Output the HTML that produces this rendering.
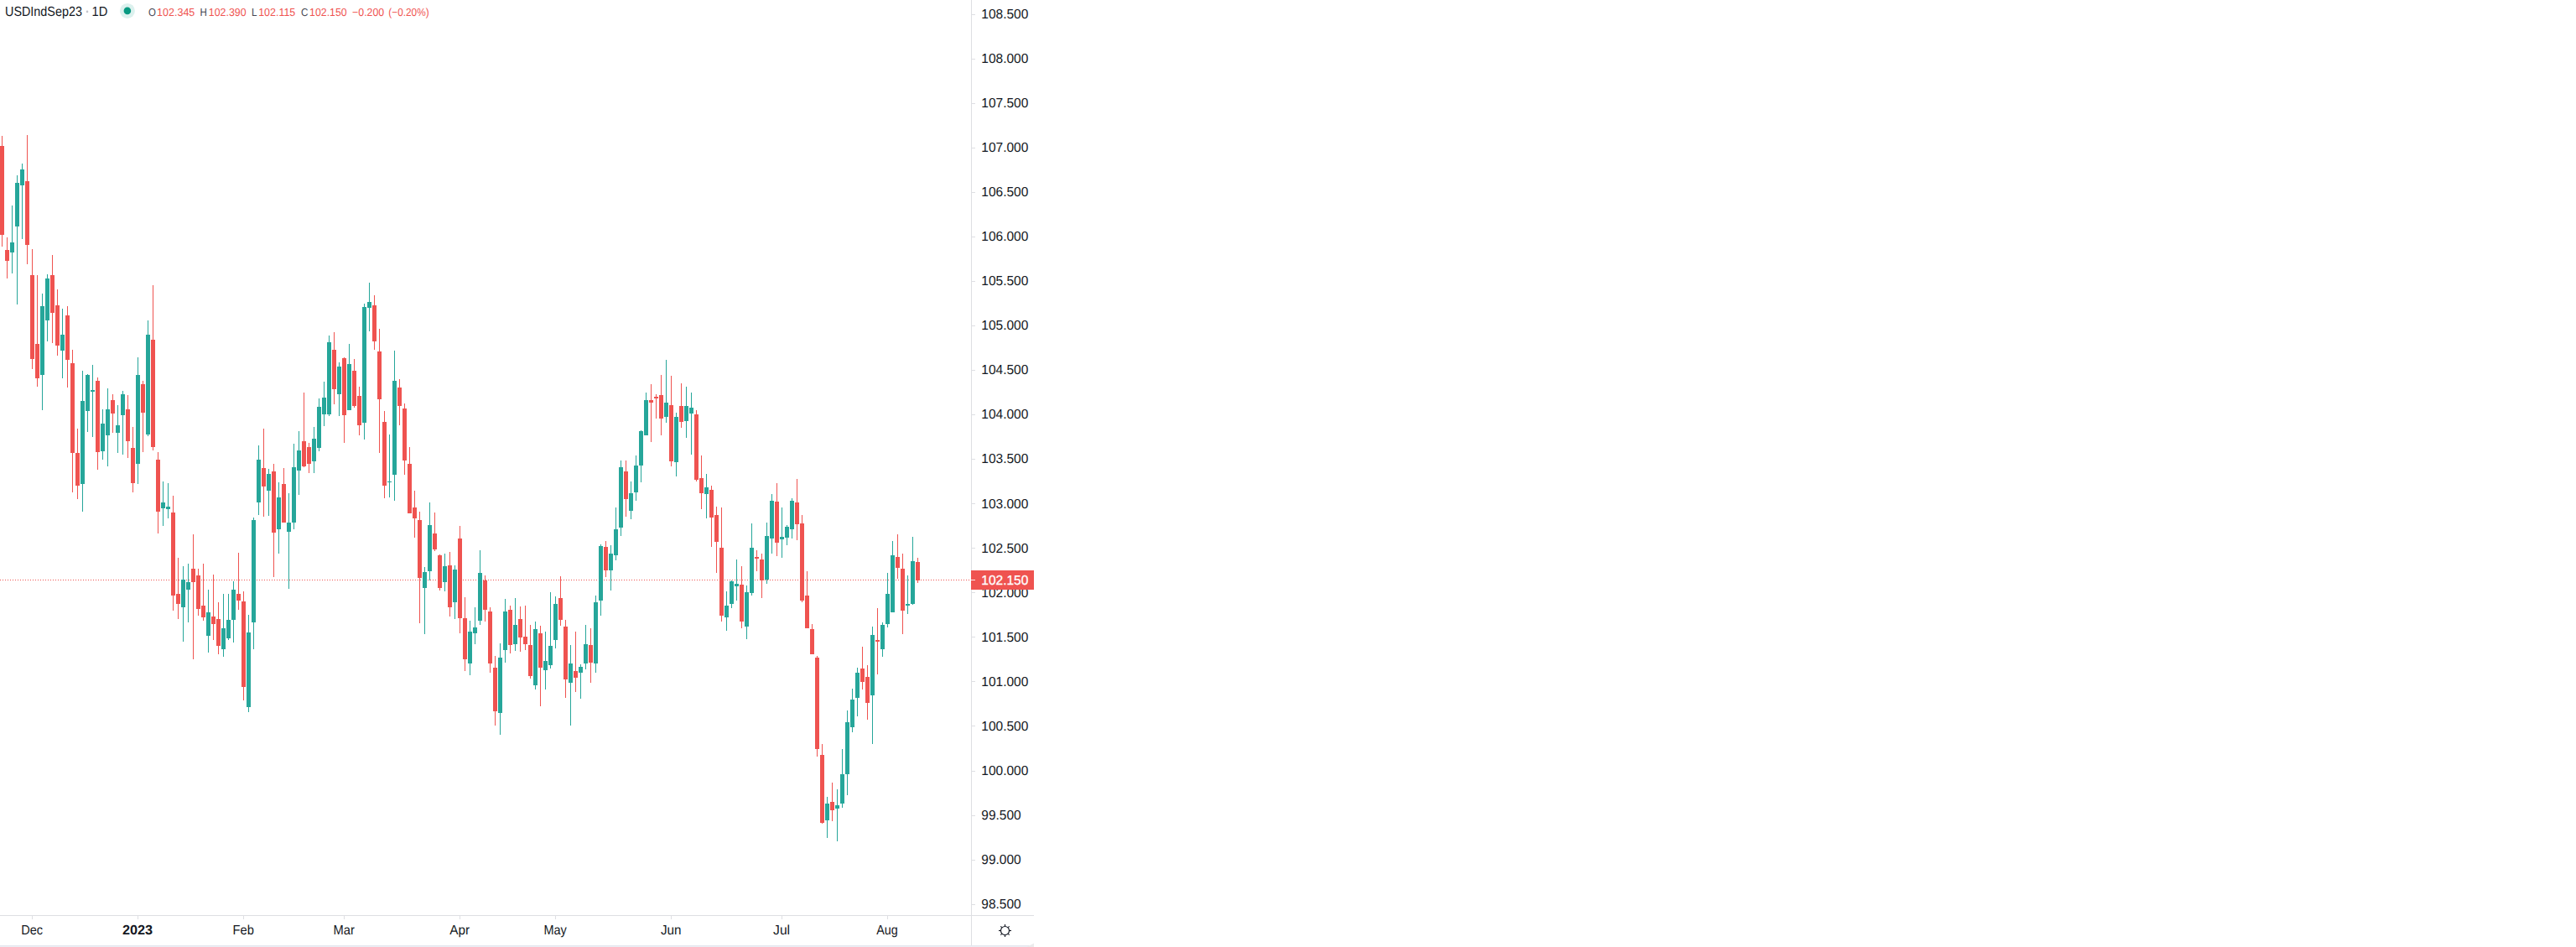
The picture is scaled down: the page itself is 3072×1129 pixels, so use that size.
<!DOCTYPE html>
<html lang="en"><head><meta charset="utf-8"><title>USDIndSep23 1D</title>
<style>
html,body{margin:0;padding:0;background:#fff;}
body{width:3072px;height:1129px;overflow:hidden;}
svg{display:block;}
text{font-family:"Liberation Sans", sans-serif;text-rendering:geometricPrecision;}
.g{fill:#26a69a}.r{fill:#ef5350}
.v{font-size:13px;fill:#ef5350}
.l{font-size:13px;fill:#434651}
</style></head><body>
<svg width="3072" height="1129" viewBox="0 0 3072 1129">
<rect width="3072" height="1129" fill="#fff"/>
<g shape-rendering="crispEdges">
<line x1="0" y1="691.5" x2="1158" y2="691.5" stroke="#ef5350" stroke-width="1" stroke-dasharray="1 2"/>
<rect class="r" x="2" y="162" width="1" height="132"/>
<rect class="r" x="0" y="174" width="5" height="106"/>
<rect class="r" x="8" y="283" width="1" height="49"/>
<rect class="r" x="6" y="298" width="5" height="13"/>
<rect class="g" x="14" y="245" width="1" height="81"/>
<rect class="g" x="12" y="289" width="5" height="12"/>
<rect class="g" x="20" y="209" width="1" height="154"/>
<rect class="g" x="18" y="218" width="5" height="52"/>
<rect class="g" x="26" y="195" width="1" height="90"/>
<rect class="g" x="24" y="202" width="5" height="19"/>
<rect class="r" x="32" y="161" width="1" height="154"/>
<rect class="r" x="30" y="216" width="5" height="76"/>
<rect class="r" x="38" y="297" width="1" height="143"/>
<rect class="r" x="36" y="328" width="5" height="100"/>
<rect class="r" x="44" y="328" width="1" height="133"/>
<rect class="r" x="42" y="410" width="5" height="41"/>
<rect class="g" x="50" y="350" width="1" height="139"/>
<rect class="g" x="48" y="365" width="5" height="82"/>
<rect class="g" x="56" y="327" width="1" height="80"/>
<rect class="g" x="54" y="332" width="5" height="50"/>
<rect class="r" x="62" y="304" width="1" height="105"/>
<rect class="r" x="60" y="328" width="5" height="45"/>
<rect class="r" x="68" y="345" width="1" height="79"/>
<rect class="r" x="66" y="364" width="5" height="48"/>
<rect class="g" x="74" y="368" width="1" height="83"/>
<rect class="g" x="72" y="399" width="5" height="19"/>
<rect class="r" x="80" y="365" width="1" height="97"/>
<rect class="r" x="78" y="376" width="5" height="53"/>
<rect class="r" x="86" y="417" width="1" height="170"/>
<rect class="r" x="84" y="433" width="5" height="107"/>
<rect class="r" x="92" y="511" width="1" height="84"/>
<rect class="r" x="90" y="540" width="5" height="39"/>
<rect class="g" x="98" y="442" width="1" height="168"/>
<rect class="g" x="96" y="478" width="5" height="99"/>
<rect class="g" x="104" y="446" width="1" height="69"/>
<rect class="g" x="102" y="447" width="5" height="43"/>
<rect class="g" x="110" y="435" width="1" height="86"/>
<rect class="g" x="108" y="465" width="5" height="2"/>
<rect class="r" x="116" y="450" width="1" height="110"/>
<rect class="r" x="114" y="454" width="5" height="85"/>
<rect class="g" x="122" y="488" width="1" height="60"/>
<rect class="g" x="120" y="505" width="5" height="33"/>
<rect class="g" x="128" y="463" width="1" height="93"/>
<rect class="g" x="126" y="488" width="5" height="31"/>
<rect class="r" x="134" y="470" width="1" height="46"/>
<rect class="r" x="132" y="477" width="5" height="16"/>
<rect class="g" x="140" y="483" width="1" height="57"/>
<rect class="g" x="138" y="507" width="5" height="9"/>
<rect class="g" x="146" y="466" width="1" height="76"/>
<rect class="g" x="144" y="470" width="5" height="25"/>
<rect class="r" x="152" y="471" width="1" height="75"/>
<rect class="r" x="150" y="488" width="5" height="38"/>
<rect class="r" x="158" y="509" width="1" height="78"/>
<rect class="r" x="156" y="534" width="5" height="42"/>
<rect class="g" x="164" y="426" width="1" height="151"/>
<rect class="g" x="162" y="447" width="5" height="106"/>
<rect class="r" x="170" y="454" width="1" height="85"/>
<rect class="r" x="168" y="458" width="5" height="34"/>
<rect class="g" x="176" y="382" width="1" height="138"/>
<rect class="g" x="174" y="399" width="5" height="119"/>
<rect class="r" x="182" y="340" width="1" height="197"/>
<rect class="r" x="180" y="405" width="5" height="128"/>
<rect class="r" x="188" y="539" width="1" height="97"/>
<rect class="r" x="186" y="548" width="5" height="62"/>
<rect class="g" x="194" y="574" width="1" height="53"/>
<rect class="g" x="192" y="599" width="5" height="7"/>
<rect class="g" x="200" y="576" width="1" height="42"/>
<rect class="g" x="198" y="604" width="5" height="3"/>
<rect class="r" x="206" y="591" width="1" height="137"/>
<rect class="r" x="204" y="611" width="5" height="99"/>
<rect class="r" x="212" y="665" width="1" height="73"/>
<rect class="r" x="210" y="708" width="5" height="12"/>
<rect class="g" x="218" y="675" width="1" height="90"/>
<rect class="g" x="216" y="691" width="5" height="33"/>
<rect class="g" x="224" y="672" width="1" height="70"/>
<rect class="g" x="222" y="694" width="5" height="9"/>
<rect class="r" x="230" y="637" width="1" height="149"/>
<rect class="r" x="228" y="678" width="5" height="16"/>
<rect class="r" x="236" y="678" width="1" height="56"/>
<rect class="r" x="234" y="686" width="5" height="40"/>
<rect class="r" x="242" y="672" width="1" height="68"/>
<rect class="r" x="240" y="722" width="5" height="14"/>
<rect class="g" x="248" y="703" width="1" height="75"/>
<rect class="g" x="246" y="730" width="5" height="28"/>
<rect class="r" x="254" y="685" width="1" height="78"/>
<rect class="r" x="252" y="735" width="5" height="9"/>
<rect class="r" x="260" y="718" width="1" height="62"/>
<rect class="r" x="258" y="738" width="5" height="32"/>
<rect class="g" x="266" y="708" width="1" height="75"/>
<rect class="g" x="264" y="749" width="5" height="25"/>
<rect class="g" x="272" y="708" width="1" height="55"/>
<rect class="g" x="270" y="739" width="5" height="22"/>
<rect class="g" x="278" y="693" width="1" height="73"/>
<rect class="g" x="276" y="703" width="5" height="36"/>
<rect class="r" x="284" y="659" width="1" height="68"/>
<rect class="r" x="282" y="708" width="5" height="8"/>
<rect class="r" x="290" y="705" width="1" height="130"/>
<rect class="r" x="288" y="717" width="5" height="102"/>
<rect class="g" x="296" y="733" width="1" height="116"/>
<rect class="g" x="294" y="754" width="5" height="89"/>
<rect class="g" x="302" y="617" width="1" height="157"/>
<rect class="g" x="300" y="620" width="5" height="122"/>
<rect class="g" x="308" y="531" width="1" height="83"/>
<rect class="g" x="306" y="548" width="5" height="51"/>
<rect class="r" x="314" y="511" width="1" height="105"/>
<rect class="r" x="312" y="558" width="5" height="22"/>
<rect class="g" x="320" y="559" width="1" height="56"/>
<rect class="g" x="318" y="565" width="5" height="20"/>
<rect class="r" x="326" y="553" width="1" height="135"/>
<rect class="r" x="324" y="562" width="5" height="73"/>
<rect class="g" x="332" y="575" width="1" height="85"/>
<rect class="g" x="330" y="593" width="5" height="38"/>
<rect class="r" x="338" y="558" width="1" height="65"/>
<rect class="r" x="336" y="577" width="5" height="46"/>
<rect class="g" x="344" y="588" width="1" height="114"/>
<rect class="g" x="342" y="623" width="5" height="11"/>
<rect class="g" x="350" y="529" width="1" height="102"/>
<rect class="g" x="348" y="557" width="5" height="66"/>
<rect class="g" x="356" y="514" width="1" height="76"/>
<rect class="g" x="354" y="537" width="5" height="24"/>
<rect class="r" x="362" y="468" width="1" height="89"/>
<rect class="r" x="360" y="526" width="5" height="30"/>
<rect class="r" x="368" y="528" width="1" height="36"/>
<rect class="r" x="366" y="533" width="5" height="20"/>
<rect class="g" x="374" y="509" width="1" height="55"/>
<rect class="g" x="372" y="523" width="5" height="27"/>
<rect class="g" x="380" y="475" width="1" height="63"/>
<rect class="g" x="378" y="485" width="5" height="49"/>
<rect class="g" x="386" y="455" width="1" height="53"/>
<rect class="g" x="384" y="474" width="5" height="20"/>
<rect class="g" x="392" y="400" width="1" height="96"/>
<rect class="g" x="390" y="408" width="5" height="86"/>
<rect class="r" x="398" y="396" width="1" height="86"/>
<rect class="r" x="396" y="417" width="5" height="47"/>
<rect class="g" x="404" y="432" width="1" height="64"/>
<rect class="g" x="402" y="437" width="5" height="33"/>
<rect class="r" x="410" y="426" width="1" height="102"/>
<rect class="r" x="408" y="427" width="5" height="68"/>
<rect class="g" x="416" y="410" width="1" height="79"/>
<rect class="g" x="414" y="434" width="5" height="55"/>
<rect class="r" x="422" y="428" width="1" height="58"/>
<rect class="r" x="420" y="442" width="5" height="42"/>
<rect class="r" x="428" y="461" width="1" height="58"/>
<rect class="r" x="426" y="472" width="5" height="35"/>
<rect class="g" x="434" y="362" width="1" height="162"/>
<rect class="g" x="432" y="366" width="5" height="138"/>
<rect class="g" x="440" y="337" width="1" height="58"/>
<rect class="g" x="438" y="360" width="5" height="7"/>
<rect class="r" x="446" y="352" width="1" height="65"/>
<rect class="r" x="444" y="364" width="5" height="43"/>
<rect class="r" x="452" y="392" width="1" height="148"/>
<rect class="r" x="450" y="419" width="5" height="57"/>
<rect class="r" x="458" y="490" width="1" height="104"/>
<rect class="r" x="456" y="503" width="5" height="76"/>
<rect class="g" x="464" y="518" width="1" height="75"/>
<rect class="g" x="462" y="574" width="5" height="1"/>
<rect class="g" x="470" y="418" width="1" height="179"/>
<rect class="g" x="468" y="454" width="5" height="112"/>
<rect class="r" x="476" y="452" width="1" height="55"/>
<rect class="r" x="474" y="462" width="5" height="22"/>
<rect class="r" x="482" y="481" width="1" height="85"/>
<rect class="r" x="480" y="487" width="5" height="62"/>
<rect class="r" x="488" y="533" width="1" height="79"/>
<rect class="r" x="486" y="553" width="5" height="59"/>
<rect class="r" x="494" y="585" width="1" height="56"/>
<rect class="r" x="492" y="605" width="5" height="13"/>
<rect class="r" x="500" y="610" width="1" height="133"/>
<rect class="r" x="498" y="620" width="5" height="69"/>
<rect class="g" x="506" y="676" width="1" height="80"/>
<rect class="g" x="504" y="682" width="5" height="19"/>
<rect class="g" x="512" y="599" width="1" height="93"/>
<rect class="g" x="510" y="626" width="5" height="55"/>
<rect class="r" x="518" y="611" width="1" height="46"/>
<rect class="r" x="516" y="636" width="5" height="19"/>
<rect class="r" x="524" y="661" width="1" height="43"/>
<rect class="r" x="522" y="662" width="5" height="39"/>
<rect class="g" x="530" y="660" width="1" height="45"/>
<rect class="g" x="528" y="675" width="5" height="19"/>
<rect class="r" x="536" y="658" width="1" height="77"/>
<rect class="r" x="534" y="674" width="5" height="50"/>
<rect class="g" x="542" y="674" width="1" height="64"/>
<rect class="g" x="540" y="679" width="5" height="39"/>
<rect class="r" x="548" y="627" width="1" height="128"/>
<rect class="r" x="546" y="642" width="5" height="95"/>
<rect class="r" x="554" y="712" width="1" height="88"/>
<rect class="r" x="552" y="737" width="5" height="49"/>
<rect class="g" x="560" y="740" width="1" height="65"/>
<rect class="g" x="558" y="753" width="5" height="38"/>
<rect class="g" x="566" y="724" width="1" height="44"/>
<rect class="g" x="564" y="748" width="5" height="7"/>
<rect class="g" x="572" y="656" width="1" height="89"/>
<rect class="g" x="570" y="683" width="5" height="57"/>
<rect class="r" x="578" y="686" width="1" height="55"/>
<rect class="r" x="576" y="692" width="5" height="35"/>
<rect class="r" x="584" y="724" width="1" height="78"/>
<rect class="r" x="582" y="729" width="5" height="62"/>
<rect class="r" x="590" y="782" width="1" height="83"/>
<rect class="r" x="588" y="796" width="5" height="52"/>
<rect class="g" x="596" y="767" width="1" height="109"/>
<rect class="g" x="594" y="784" width="5" height="66"/>
<rect class="g" x="602" y="714" width="1" height="76"/>
<rect class="g" x="600" y="729" width="5" height="46"/>
<rect class="r" x="608" y="722" width="1" height="57"/>
<rect class="r" x="606" y="727" width="5" height="42"/>
<rect class="g" x="614" y="713" width="1" height="63"/>
<rect class="g" x="612" y="745" width="5" height="23"/>
<rect class="r" x="620" y="723" width="1" height="54"/>
<rect class="r" x="618" y="738" width="5" height="22"/>
<rect class="r" x="626" y="722" width="1" height="53"/>
<rect class="r" x="624" y="759" width="5" height="9"/>
<rect class="r" x="632" y="745" width="1" height="64"/>
<rect class="r" x="630" y="769" width="5" height="37"/>
<rect class="g" x="638" y="741" width="1" height="81"/>
<rect class="g" x="636" y="750" width="5" height="67"/>
<rect class="r" x="644" y="746" width="1" height="96"/>
<rect class="r" x="642" y="755" width="5" height="41"/>
<rect class="g" x="650" y="753" width="1" height="69"/>
<rect class="g" x="648" y="788" width="5" height="11"/>
<rect class="g" x="656" y="706" width="1" height="91"/>
<rect class="g" x="654" y="770" width="5" height="23"/>
<rect class="g" x="662" y="711" width="1" height="62"/>
<rect class="g" x="660" y="720" width="5" height="43"/>
<rect class="r" x="668" y="687" width="1" height="59"/>
<rect class="r" x="666" y="713" width="5" height="26"/>
<rect class="r" x="674" y="739" width="1" height="93"/>
<rect class="r" x="672" y="747" width="5" height="63"/>
<rect class="g" x="680" y="769" width="1" height="96"/>
<rect class="g" x="678" y="791" width="5" height="23"/>
<rect class="r" x="686" y="753" width="1" height="72"/>
<rect class="r" x="684" y="800" width="5" height="8"/>
<rect class="g" x="692" y="792" width="1" height="41"/>
<rect class="g" x="690" y="795" width="5" height="7"/>
<rect class="g" x="698" y="745" width="1" height="53"/>
<rect class="g" x="696" y="768" width="5" height="23"/>
<rect class="r" x="704" y="749" width="1" height="65"/>
<rect class="r" x="702" y="769" width="5" height="21"/>
<rect class="g" x="710" y="710" width="1" height="92"/>
<rect class="g" x="708" y="718" width="5" height="73"/>
<rect class="g" x="716" y="649" width="1" height="85"/>
<rect class="g" x="714" y="651" width="5" height="65"/>
<rect class="r" x="722" y="645" width="1" height="43"/>
<rect class="r" x="720" y="652" width="5" height="28"/>
<rect class="g" x="728" y="650" width="1" height="54"/>
<rect class="g" x="726" y="660" width="5" height="20"/>
<rect class="g" x="734" y="605" width="1" height="63"/>
<rect class="g" x="732" y="631" width="5" height="31"/>
<rect class="g" x="740" y="549" width="1" height="90"/>
<rect class="g" x="738" y="557" width="5" height="72"/>
<rect class="r" x="746" y="549" width="1" height="67"/>
<rect class="r" x="744" y="562" width="5" height="33"/>
<rect class="g" x="752" y="574" width="1" height="45"/>
<rect class="g" x="750" y="588" width="5" height="21"/>
<rect class="g" x="758" y="543" width="1" height="54"/>
<rect class="g" x="756" y="555" width="5" height="32"/>
<rect class="g" x="764" y="513" width="1" height="62"/>
<rect class="g" x="762" y="514" width="5" height="41"/>
<rect class="g" x="770" y="468" width="1" height="51"/>
<rect class="g" x="768" y="477" width="5" height="42"/>
<rect class="r" x="776" y="458" width="1" height="69"/>
<rect class="r" x="774" y="477" width="5" height="3"/>
<rect class="r" x="782" y="470" width="1" height="29"/>
<rect class="r" x="780" y="473" width="5" height="2"/>
<rect class="r" x="788" y="447" width="1" height="72"/>
<rect class="r" x="786" y="471" width="5" height="28"/>
<rect class="g" x="794" y="429" width="1" height="75"/>
<rect class="g" x="792" y="480" width="5" height="17"/>
<rect class="r" x="800" y="448" width="1" height="108"/>
<rect class="r" x="798" y="483" width="5" height="67"/>
<rect class="g" x="806" y="492" width="1" height="76"/>
<rect class="g" x="804" y="497" width="5" height="54"/>
<rect class="r" x="812" y="457" width="1" height="53"/>
<rect class="r" x="810" y="484" width="5" height="19"/>
<rect class="g" x="818" y="461" width="1" height="61"/>
<rect class="g" x="816" y="484" width="5" height="18"/>
<rect class="g" x="824" y="468" width="1" height="74"/>
<rect class="g" x="822" y="486" width="5" height="7"/>
<rect class="r" x="830" y="489" width="1" height="85"/>
<rect class="r" x="828" y="494" width="5" height="78"/>
<rect class="r" x="836" y="543" width="1" height="64"/>
<rect class="r" x="834" y="570" width="5" height="18"/>
<rect class="g" x="842" y="565" width="1" height="53"/>
<rect class="g" x="840" y="581" width="5" height="8"/>
<rect class="r" x="848" y="579" width="1" height="73"/>
<rect class="r" x="846" y="584" width="5" height="33"/>
<rect class="r" x="854" y="604" width="1" height="79"/>
<rect class="r" x="852" y="614" width="5" height="32"/>
<rect class="r" x="860" y="605" width="1" height="136"/>
<rect class="r" x="858" y="653" width="5" height="81"/>
<rect class="g" x="866" y="705" width="1" height="47"/>
<rect class="g" x="864" y="722" width="5" height="14"/>
<rect class="g" x="872" y="692" width="1" height="33"/>
<rect class="g" x="870" y="693" width="5" height="27"/>
<rect class="g" x="878" y="667" width="1" height="49"/>
<rect class="g" x="876" y="696" width="5" height="3"/>
<rect class="r" x="884" y="675" width="1" height="74"/>
<rect class="r" x="882" y="697" width="5" height="44"/>
<rect class="g" x="890" y="698" width="1" height="64"/>
<rect class="g" x="888" y="706" width="5" height="41"/>
<rect class="g" x="896" y="624" width="1" height="86"/>
<rect class="g" x="894" y="653" width="5" height="54"/>
<rect class="r" x="902" y="656" width="1" height="25"/>
<rect class="r" x="900" y="664" width="5" height="2"/>
<rect class="r" x="908" y="660" width="1" height="53"/>
<rect class="r" x="906" y="667" width="5" height="25"/>
<rect class="g" x="914" y="623" width="1" height="73"/>
<rect class="g" x="912" y="639" width="5" height="52"/>
<rect class="g" x="920" y="589" width="1" height="71"/>
<rect class="g" x="918" y="597" width="5" height="45"/>
<rect class="r" x="926" y="576" width="1" height="87"/>
<rect class="r" x="924" y="598" width="5" height="49"/>
<rect class="g" x="932" y="605" width="1" height="60"/>
<rect class="g" x="930" y="640" width="5" height="3"/>
<rect class="g" x="938" y="626" width="1" height="24"/>
<rect class="g" x="936" y="628" width="5" height="13"/>
<rect class="g" x="944" y="594" width="1" height="48"/>
<rect class="g" x="942" y="597" width="5" height="34"/>
<rect class="r" x="950" y="571" width="1" height="73"/>
<rect class="r" x="948" y="599" width="5" height="26"/>
<rect class="r" x="956" y="614" width="1" height="104"/>
<rect class="r" x="954" y="624" width="5" height="92"/>
<rect class="r" x="962" y="681" width="1" height="68"/>
<rect class="r" x="960" y="710" width="5" height="39"/>
<rect class="r" x="968" y="744" width="1" height="36"/>
<rect class="r" x="966" y="750" width="5" height="30"/>
<rect class="r" x="974" y="782" width="1" height="120"/>
<rect class="r" x="972" y="784" width="5" height="109"/>
<rect class="r" x="980" y="887" width="1" height="95"/>
<rect class="r" x="978" y="900" width="5" height="81"/>
<rect class="g" x="986" y="950" width="1" height="49"/>
<rect class="g" x="984" y="958" width="5" height="20"/>
<rect class="r" x="992" y="933" width="1" height="46"/>
<rect class="r" x="990" y="956" width="5" height="10"/>
<rect class="g" x="998" y="941" width="1" height="62"/>
<rect class="g" x="996" y="960" width="5" height="4"/>
<rect class="g" x="1004" y="893" width="1" height="70"/>
<rect class="g" x="1002" y="923" width="5" height="35"/>
<rect class="g" x="1010" y="847" width="1" height="101"/>
<rect class="g" x="1008" y="861" width="5" height="62"/>
<rect class="g" x="1016" y="821" width="1" height="52"/>
<rect class="g" x="1014" y="834" width="5" height="33"/>
<rect class="g" x="1022" y="796" width="1" height="58"/>
<rect class="g" x="1020" y="802" width="5" height="30"/>
<rect class="r" x="1028" y="771" width="1" height="51"/>
<rect class="r" x="1026" y="797" width="5" height="16"/>
<rect class="r" x="1034" y="793" width="1" height="65"/>
<rect class="r" x="1032" y="807" width="5" height="31"/>
<rect class="g" x="1040" y="747" width="1" height="140"/>
<rect class="g" x="1038" y="757" width="5" height="72"/>
<rect class="r" x="1046" y="725" width="1" height="79"/>
<rect class="r" x="1044" y="763" width="5" height="2"/>
<rect class="g" x="1052" y="742" width="1" height="41"/>
<rect class="g" x="1050" y="745" width="5" height="29"/>
<rect class="g" x="1058" y="683" width="1" height="65"/>
<rect class="g" x="1056" y="708" width="5" height="36"/>
<rect class="g" x="1064" y="645" width="1" height="85"/>
<rect class="g" x="1062" y="662" width="5" height="68"/>
<rect class="r" x="1070" y="637" width="1" height="53"/>
<rect class="r" x="1068" y="664" width="5" height="13"/>
<rect class="r" x="1076" y="660" width="1" height="96"/>
<rect class="r" x="1074" y="678" width="5" height="50"/>
<rect class="g" x="1082" y="686" width="1" height="46"/>
<rect class="g" x="1080" y="720" width="5" height="2"/>
<rect class="g" x="1088" y="640" width="1" height="81"/>
<rect class="g" x="1086" y="669" width="5" height="51"/>
<rect class="r" x="1094" y="665" width="1" height="30"/>
<rect class="r" x="1092" y="670" width="5" height="22"/>
<rect x="1158" y="0" width="1" height="1128" fill="#dedfe3"/>
<rect x="0" y="1091" width="1233" height="1" fill="#dedfe3"/>
<rect x="0" y="1127" width="1233" height="1" fill="#e3e6ee"/>
<rect x="0" y="1128" width="1233" height="1" fill="#eceef4"/>
<rect x="1159" y="1078" width="4" height="1" fill="#dedfe3"/>
<rect x="1159" y="1025" width="4" height="1" fill="#dedfe3"/>
<rect x="1159" y="972" width="4" height="1" fill="#dedfe3"/>
<rect x="1159" y="919" width="4" height="1" fill="#dedfe3"/>
<rect x="1159" y="865" width="4" height="1" fill="#dedfe3"/>
<rect x="1159" y="812" width="4" height="1" fill="#dedfe3"/>
<rect x="1159" y="759" width="4" height="1" fill="#dedfe3"/>
<rect x="1159" y="706" width="4" height="1" fill="#dedfe3"/>
<rect x="1159" y="653" width="4" height="1" fill="#dedfe3"/>
<rect x="1159" y="600" width="4" height="1" fill="#dedfe3"/>
<rect x="1159" y="547" width="4" height="1" fill="#dedfe3"/>
<rect x="1159" y="494" width="4" height="1" fill="#dedfe3"/>
<rect x="1159" y="441" width="4" height="1" fill="#dedfe3"/>
<rect x="1159" y="388" width="4" height="1" fill="#dedfe3"/>
<rect x="1159" y="335" width="4" height="1" fill="#dedfe3"/>
<rect x="1159" y="282" width="4" height="1" fill="#dedfe3"/>
<rect x="1159" y="229" width="4" height="1" fill="#dedfe3"/>
<rect x="1159" y="176" width="4" height="1" fill="#dedfe3"/>
<rect x="1159" y="123" width="4" height="1" fill="#dedfe3"/>
<rect x="1159" y="70" width="4" height="1" fill="#dedfe3"/>
<rect x="1159" y="17" width="4" height="1" fill="#dedfe3"/>
<rect x="38" y="1092" width="1" height="4" fill="#dedfe3"/>
<rect x="164" y="1092" width="1" height="4" fill="#dedfe3"/>
<rect x="290" y="1092" width="1" height="4" fill="#dedfe3"/>
<rect x="410" y="1092" width="1" height="4" fill="#dedfe3"/>
<rect x="548" y="1092" width="1" height="4" fill="#dedfe3"/>
<rect x="662" y="1092" width="1" height="4" fill="#dedfe3"/>
<rect x="800" y="1092" width="1" height="4" fill="#dedfe3"/>
<rect x="932" y="1092" width="1" height="4" fill="#dedfe3"/>
<rect x="1058" y="1092" width="1" height="4" fill="#dedfe3"/>
</g>
<text x="1170.3" y="1082.9" textLength="47.3" lengthAdjust="spacingAndGlyphs" style="font-size:15.9px;fill:#131722">98.500</text>
<text x="1170.3" y="1029.9" textLength="47.3" lengthAdjust="spacingAndGlyphs" style="font-size:15.9px;fill:#131722">99.000</text>
<text x="1170.3" y="976.9" textLength="47.3" lengthAdjust="spacingAndGlyphs" style="font-size:15.9px;fill:#131722">99.500</text>
<text x="1170.3" y="923.9" textLength="56.0" lengthAdjust="spacingAndGlyphs" style="font-size:15.9px;fill:#131722">100.000</text>
<text x="1170.3" y="870.9" textLength="56.0" lengthAdjust="spacingAndGlyphs" style="font-size:15.9px;fill:#131722">100.500</text>
<text x="1170.3" y="817.9" textLength="56.0" lengthAdjust="spacingAndGlyphs" style="font-size:15.9px;fill:#131722">101.000</text>
<text x="1170.3" y="764.9" textLength="56.0" lengthAdjust="spacingAndGlyphs" style="font-size:15.9px;fill:#131722">101.500</text>
<text x="1170.3" y="711.9" textLength="56.0" lengthAdjust="spacingAndGlyphs" style="font-size:15.9px;fill:#131722">102.000</text>
<text x="1170.3" y="658.9" textLength="56.0" lengthAdjust="spacingAndGlyphs" style="font-size:15.9px;fill:#131722">102.500</text>
<text x="1170.3" y="605.9" textLength="56.0" lengthAdjust="spacingAndGlyphs" style="font-size:15.9px;fill:#131722">103.000</text>
<text x="1170.3" y="551.9" textLength="56.0" lengthAdjust="spacingAndGlyphs" style="font-size:15.9px;fill:#131722">103.500</text>
<text x="1170.3" y="498.9" textLength="56.0" lengthAdjust="spacingAndGlyphs" style="font-size:15.9px;fill:#131722">104.000</text>
<text x="1170.3" y="445.9" textLength="56.0" lengthAdjust="spacingAndGlyphs" style="font-size:15.9px;fill:#131722">104.500</text>
<text x="1170.3" y="392.9" textLength="56.0" lengthAdjust="spacingAndGlyphs" style="font-size:15.9px;fill:#131722">105.000</text>
<text x="1170.3" y="339.9" textLength="56.0" lengthAdjust="spacingAndGlyphs" style="font-size:15.9px;fill:#131722">105.500</text>
<text x="1170.3" y="286.9" textLength="56.0" lengthAdjust="spacingAndGlyphs" style="font-size:15.9px;fill:#131722">106.000</text>
<text x="1170.3" y="233.9" textLength="56.0" lengthAdjust="spacingAndGlyphs" style="font-size:15.9px;fill:#131722">106.500</text>
<text x="1170.3" y="180.9" textLength="56.0" lengthAdjust="spacingAndGlyphs" style="font-size:15.9px;fill:#131722">107.000</text>
<text x="1170.3" y="127.9" textLength="56.0" lengthAdjust="spacingAndGlyphs" style="font-size:15.9px;fill:#131722">107.500</text>
<text x="1170.3" y="74.9" textLength="56.0" lengthAdjust="spacingAndGlyphs" style="font-size:15.9px;fill:#131722">108.000</text>
<text x="1170.3" y="21.9" textLength="56.0" lengthAdjust="spacingAndGlyphs" style="font-size:15.9px;fill:#131722">108.500</text>
<text x="25.2" y="1114.4" textLength="25.8" lengthAdjust="spacingAndGlyphs" style="font-size:16px;fill:#131722">Dec</text>
<text x="146.0" y="1114.4" textLength="36.1" lengthAdjust="spacingAndGlyphs" style="font-weight:bold;font-size:16px;fill:#131722">2023</text>
<text x="277.5" y="1114.4" textLength="25.3" lengthAdjust="spacingAndGlyphs" style="font-size:16px;fill:#131722">Feb</text>
<text x="397.5" y="1114.4" textLength="25.3" lengthAdjust="spacingAndGlyphs" style="font-size:16px;fill:#131722">Mar</text>
<text x="536.2" y="1114.4" textLength="23.8" lengthAdjust="spacingAndGlyphs" style="font-size:16px;fill:#131722">Apr</text>
<text x="648.4" y="1114.4" textLength="27.4" lengthAdjust="spacingAndGlyphs" style="font-size:16px;fill:#131722">May</text>
<text x="787.9" y="1114.4" textLength="24.5" lengthAdjust="spacingAndGlyphs" style="font-size:16px;fill:#131722">Jun</text>
<text x="922.1" y="1114.4" textLength="20.0" lengthAdjust="spacingAndGlyphs" style="font-size:16px;fill:#131722">Jul</text>
<text x="1045.3" y="1114.4" textLength="25.5" lengthAdjust="spacingAndGlyphs" style="font-size:16px;fill:#131722">Aug</text>
<rect x="1158" y="680" width="75" height="23" fill="#ef5350" shape-rendering="crispEdges"/>
<rect x="1158" y="691" width="5" height="1" fill="#fff" fill-opacity="0.88" shape-rendering="crispEdges"/>
<text x="1170.3" y="696.9" textLength="56.0" lengthAdjust="spacingAndGlyphs" style="font-size:15.9px;fill:#fff;stroke:#fff;stroke-width:0.3px">102.150</text>
<g stroke="#131722" stroke-width="1.15" fill="none">
<circle cx="1198.5" cy="1109.5" r="5.0"/>
<line x1="1203.90" y1="1109.50" x2="1206.00" y2="1109.50"/>
<line x1="1202.32" y1="1113.32" x2="1203.66" y2="1114.66"/>
<line x1="1198.50" y1="1114.90" x2="1198.50" y2="1117.00"/>
<line x1="1194.68" y1="1113.32" x2="1193.34" y2="1114.66"/>
<line x1="1193.10" y1="1109.50" x2="1191.00" y2="1109.50"/>
<line x1="1194.68" y1="1105.68" x2="1193.34" y2="1104.34"/>
<line x1="1198.50" y1="1104.10" x2="1198.50" y2="1102.00"/>
<line x1="1202.32" y1="1105.68" x2="1203.66" y2="1104.34"/>
</g>
<polygon points="1233,1124.5 1233,1129 1224.5,1129" fill="#ebebec"/>
<text x="6.0" y="18.9" textLength="91.9" lengthAdjust="spacingAndGlyphs" style="font-size:16px;fill:#131722">USDIndSep23</text>
<circle cx="104" cy="13.9" r="1.3" fill="#c3c5cd"/>
<text x="109.6" y="18.9" textLength="18.8" lengthAdjust="spacingAndGlyphs" style="font-size:16px;fill:#131722">1D</text>
<circle cx="151.9" cy="12.9" r="9" fill="#dcf1ee"/>
<circle cx="151.9" cy="12.9" r="4.3" fill="#089981"/>
<text class="l" x="177.0" y="18.9" textLength="8.9" lengthAdjust="spacingAndGlyphs">O</text>
<text class="v" x="187.1" y="18.9" textLength="45.2" lengthAdjust="spacingAndGlyphs">102.345</text>
<text class="l" x="238.6" y="18.9" textLength="8.3" lengthAdjust="spacingAndGlyphs">H</text>
<text class="v" x="248.8" y="18.9" textLength="44.8" lengthAdjust="spacingAndGlyphs">102.390</text>
<text class="l" x="300.0" y="18.9" textLength="6.5" lengthAdjust="spacingAndGlyphs">L</text>
<text class="v" x="308.2" y="18.9" textLength="44.1" lengthAdjust="spacingAndGlyphs">102.115</text>
<text class="l" x="359.0" y="18.9" textLength="8.4" lengthAdjust="spacingAndGlyphs">C</text>
<text class="v" x="369.1" y="18.9" textLength="44.5" lengthAdjust="spacingAndGlyphs">102.150</text>
<text class="v" x="420.1" y="18.9" textLength="38.1" lengthAdjust="spacingAndGlyphs">−0.200</text>
<text class="v" x="463.3" y="18.9" textLength="48.3" lengthAdjust="spacingAndGlyphs">(−0.20%)</text>
</svg>
</body></html>
